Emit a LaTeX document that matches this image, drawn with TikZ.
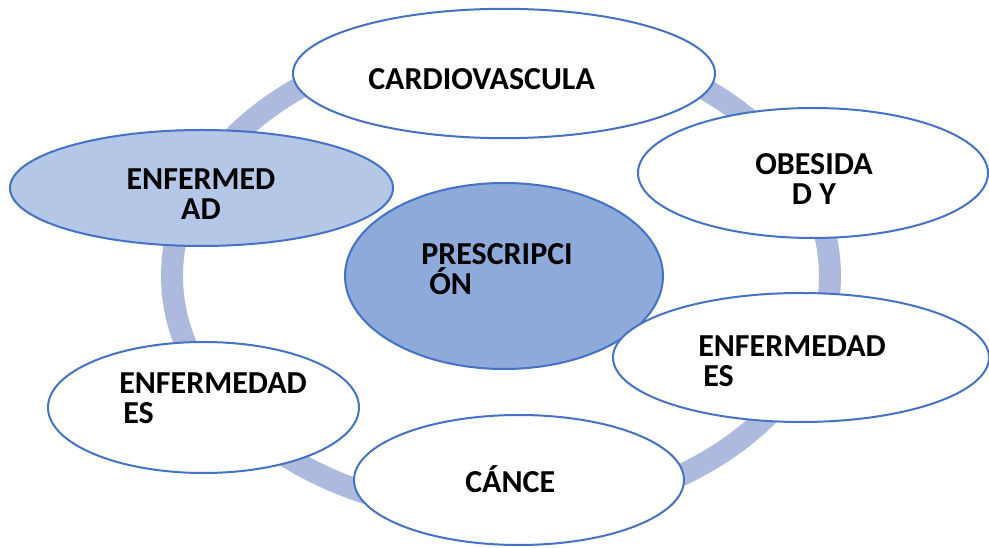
\documentclass[tikz,border=0pt]{standalone}
\usepackage{fontspec}
\setmainfont{Carlito}
\usepackage{tikz}
\usetikzlibrary{shapes.geometric}

\definecolor{ringblue}{HTML}{AEBADD}
\definecolor{edgeblue}{HTML}{4472C4}
\definecolor{hubblue}{HTML}{8EAADB}
\definecolor{paleblue}{HTML}{B4C7E7}

\begin{document}
\begin{tikzpicture}[x=0.75pt,y=-0.75pt,
    bubble/.style={ellipse, draw=edgeblue, line width=1.5pt, fill=white, inner sep=0pt},
    lbl/.style={inner sep=0pt, font=\fontsize{24}{22.5}\selectfont\bfseries}]
    \useasboundingbox (0,0) rectangle (989,548);

    % Draw the ring behind the bubbles
    \draw[ringblue, line width=16.5pt] (501,276) ellipse [x radius=246.75pt, y radius=178.5pt];

    % Draw the centre and the six bubbles round it
    \node[bubble, fill=hubblue, minimum width=238.5pt, minimum height=139.5pt] (presc) at (504,276) {};
    \node[bubble, minimum width=316.5pt, minimum height=97pt] (cardio) at (504,73.5) {};
    \node[bubble, minimum width=262.5pt, minimum height=97.5pt] (obes) at (813,173) {};
    \node[bubble, minimum width=282pt, minimum height=96.75pt] (enfright) at (801,357.5) {};
    \node[bubble, minimum width=247.5pt, minimum height=97.5pt] (cance) at (519,480) {};
    \node[bubble, minimum width=233.25pt, minimum height=98.25pt] (enfleft) at (203.5,407.5) {};
    \node[bubble, fill=paleblue, minimum width=287.25pt, minimum height=87pt] (enftop) at (201.5,188) {};

    % Write the labels
    \node[lbl, anchor=north west, align=left] (presctxt) at (421,243) {PRESCRIPCI\\\hspace*{6pt}ÓN};
    \node[lbl, anchor=base west] (cardiotxt) at (368,90) {CARDIOVASCULA};
    \node[lbl, anchor=north, align=center] (obestxt) at (814,153) {OBESIDA\\D Y};
    \node[lbl, anchor=north west, align=left] (enfrighttxt) at (698,335) {ENFERMEDAD\\\hspace*{3.75pt}ES};
    \node[lbl, anchor=base west] (cancetxt) at (465,493) {CÁNCE};
    \node[lbl, anchor=north west, align=left] (enflefttxt) at (119,372) {ENFERMEDAD\\\hspace*{3pt}ES};
    \node[lbl, anchor=north, align=center] (enftoptxt) at (201,168) {ENFERMED\\AD};

\end{tikzpicture}
\end{document}
